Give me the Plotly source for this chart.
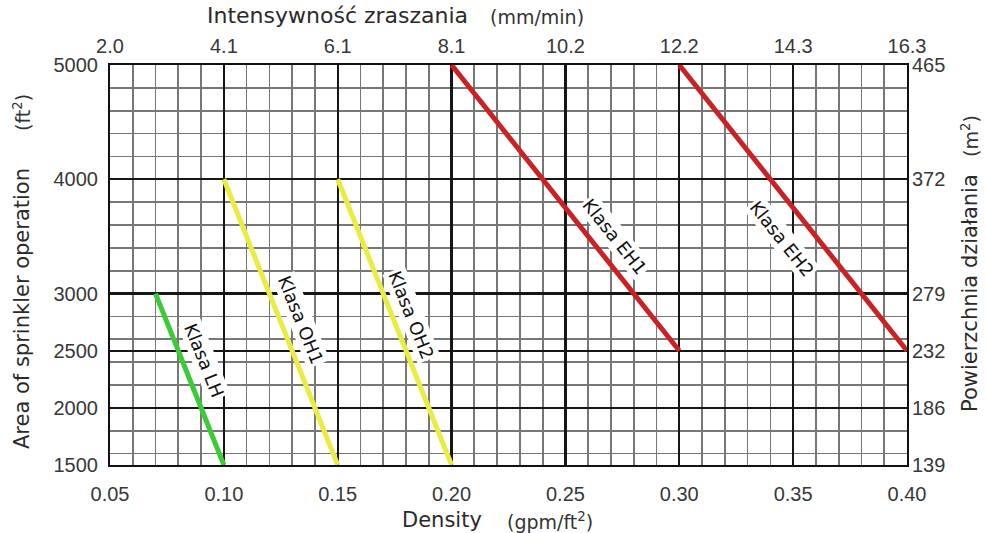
import math
import plotly.graph_objects as go

# ---------------- data ----------------
classes = ["Klasa LH", "Klasa OH1", "Klasa OH2", "Klasa EH1", "Klasa EH2"]
density_start = [0.07, 0.10, 0.15, 0.20, 0.30]   # gpm/ft2
density_end = [0.10, 0.15, 0.20, 0.30, 0.40]
area_start = [3000, 4000, 4000, 5000, 5000]       # ft2
area_end = [1500, 1500, 1500, 2500, 2500]

density_ticks = [0.05, 0.10, 0.15, 0.20, 0.25, 0.30, 0.35, 0.40]
density_tick_labels = ["0.05", "0.10", "0.15", "0.20", "0.25", "0.30", "0.35", "0.40"]
intensity_tick_labels = ["2.0", "4.1", "6.1", "8.1", "10.2", "12.2", "14.3", "16.3"]
area_ticks = [1500, 2000, 2500, 3000, 4000, 5000]
area_tick_labels = ["1500", "2000", "2500", "3000", "4000", "5000"]
area_m2_labels = ["139", "186", "232", "279", "372", "465"]
area_minor_ticks = list(range(1600, 5001, 200))

# ---------------- style ----------------
class_colors = ["#3ccb38", "#ebeb45", "#ebeb45", "#c92226", "#c92226"]
label_t = [0.433, 0.517, 0.497, 0.645, 0.546]
label_offset = [21, 19, 18, 21, -28]

W, H = 986, 533
ML, MR, MT, MB = 110, 79, 65, 68
PW, PH = W - ML - MR, H - MT - MB
XR = [0.05, 0.40]
YR = [1500, 5000]
px_x = PW / (XR[1] - XR[0])
px_y = PH / (YR[1] - YR[0])

TICK_FONT = dict(family="Liberation Sans, Arial", size=20, color="#383838")
TITLE_FONT = dict(family="DejaVu Sans", size=21, color="#2a2a2a")
UNIT_FONT = dict(family="DejaVu Sans", size=19, color="#333333")

fig = go.Figure()

for name, x0, x1, y0, y1, c in zip(classes, density_start, density_end,
                                   area_start, area_end, class_colors):
    fig.add_trace(go.Scatter(x=[x0, x1], y=[y0, y1], mode="lines",
                             line=dict(color=c, width=5), name=name,
                             showlegend=False, hoverinfo="skip",
                             cliponaxis=False))

# invisible trace for secondary axes
fig.add_trace(go.Scatter(x=[XR[0]], y=[YR[0]], xaxis="x2", yaxis="y2",
                         mode="markers", marker=dict(opacity=0),
                         showlegend=False, hoverinfo="skip"))

# class labels along the lines
for name, x0, x1, y0, y1, t, off in zip(classes, density_start, density_end,
                                        area_start, area_end, label_t, label_offset):
    dxp = (x1 - x0) * px_x
    dyp = (y0 - y1) * px_y
    L = math.hypot(dxp, dyp)
    ang = math.degrees(math.atan2(dyp, dxp))
    fig.add_annotation(x=x0 + t * (x1 - x0), y=y0 + t * (y1 - y0),
                       xref="x", yref="y", text=name, showarrow=False,
                       textangle=ang, bgcolor="white", borderpad=1,
                       xshift=off * dyp / L, yshift=off * dxp / L,
                       font=dict(family="DejaVu Sans", size=18, color="#111"))

GRID_MAJOR = "#161616"
GRID_MINOR = "#777777"

fig.update_layout(
    width=W, height=H,
    margin=dict(l=ML, r=MR, t=MT, b=MB, autoexpand=False),
    paper_bgcolor="white", plot_bgcolor="white",
    xaxis=dict(range=XR, tickmode="array", tickvals=density_ticks,
               ticktext=density_tick_labels, tickfont=TICK_FONT,
               showgrid=True, gridcolor=GRID_MAJOR, gridwidth=2.2,
               minor=dict(dtick=0.01, tick0=0, showgrid=True,
                          gridcolor=GRID_MINOR, gridwidth=1.7),
               showline=True, linecolor="#111", linewidth=2, mirror=True,
               ticks="", zeroline=False, ticklabelstandoff=10),
    yaxis=dict(range=YR, tickmode="array", tickvals=area_ticks,
               ticktext=area_tick_labels, tickfont=TICK_FONT,
               showgrid=True, gridcolor=GRID_MAJOR, gridwidth=2.2,
               minor=dict(tickmode="array", tickvals=area_minor_ticks, showgrid=True,
                          gridcolor=GRID_MINOR, gridwidth=1.7),
               showline=True, linecolor="#111", linewidth=2, mirror=True,
               ticks="", zeroline=False, ticklabelstandoff=6),
    xaxis2=dict(range=XR, overlaying="x", side="top", anchor="y",
                tickmode="array", tickvals=density_ticks,
                ticktext=intensity_tick_labels, tickfont=TICK_FONT,
                showgrid=False, zeroline=False, ticks="", ticklabelstandoff=7),
    yaxis2=dict(range=YR, overlaying="y", side="right", anchor="x",
                tickmode="array", tickvals=area_ticks,
                ticktext=area_m2_labels, tickfont=TICK_FONT,
                showgrid=False, zeroline=False, ticks="", ticklabelstandoff=4),
)

def px2paper(px, py):
    return (px - ML) / PW, (H - MB - py) / PH

def add_text(text, px, py, font, angle=0):
    xp, yp = px2paper(px, py)
    fig.add_annotation(x=xp, y=yp, xref="paper", yref="paper", text=text,
                       showarrow=False, font=font, textangle=angle,
                       xanchor="center", yanchor="middle")

TITLE_TOP = dict(TITLE_FONT, size=22)
add_text("Intensywność zraszania", 337, 16, TITLE_TOP)
add_text("(mm/min)", 537, 17, UNIT_FONT)
add_text("Density", 442, 520, TITLE_FONT)
add_text("(gpm/ft<sup>2</sup>)", 550, 521, UNIT_FONT)
add_text("Area of sprinkler operation", 22, 309, TITLE_FONT, -90)
add_text("(ft<sup>2</sup>)", 22, 113, UNIT_FONT, -90)
add_text("Powierzchnia działania", 970, 293, TITLE_FONT, -90)
add_text("(m<sup>2</sup>)", 970, 136, UNIT_FONT, -90)

fig.write_html("out.html",
               config={"displayModeBar": False, "staticPlot": True},
               post_script="document.body.style.margin='0';document.body.style.overflow='hidden';")
